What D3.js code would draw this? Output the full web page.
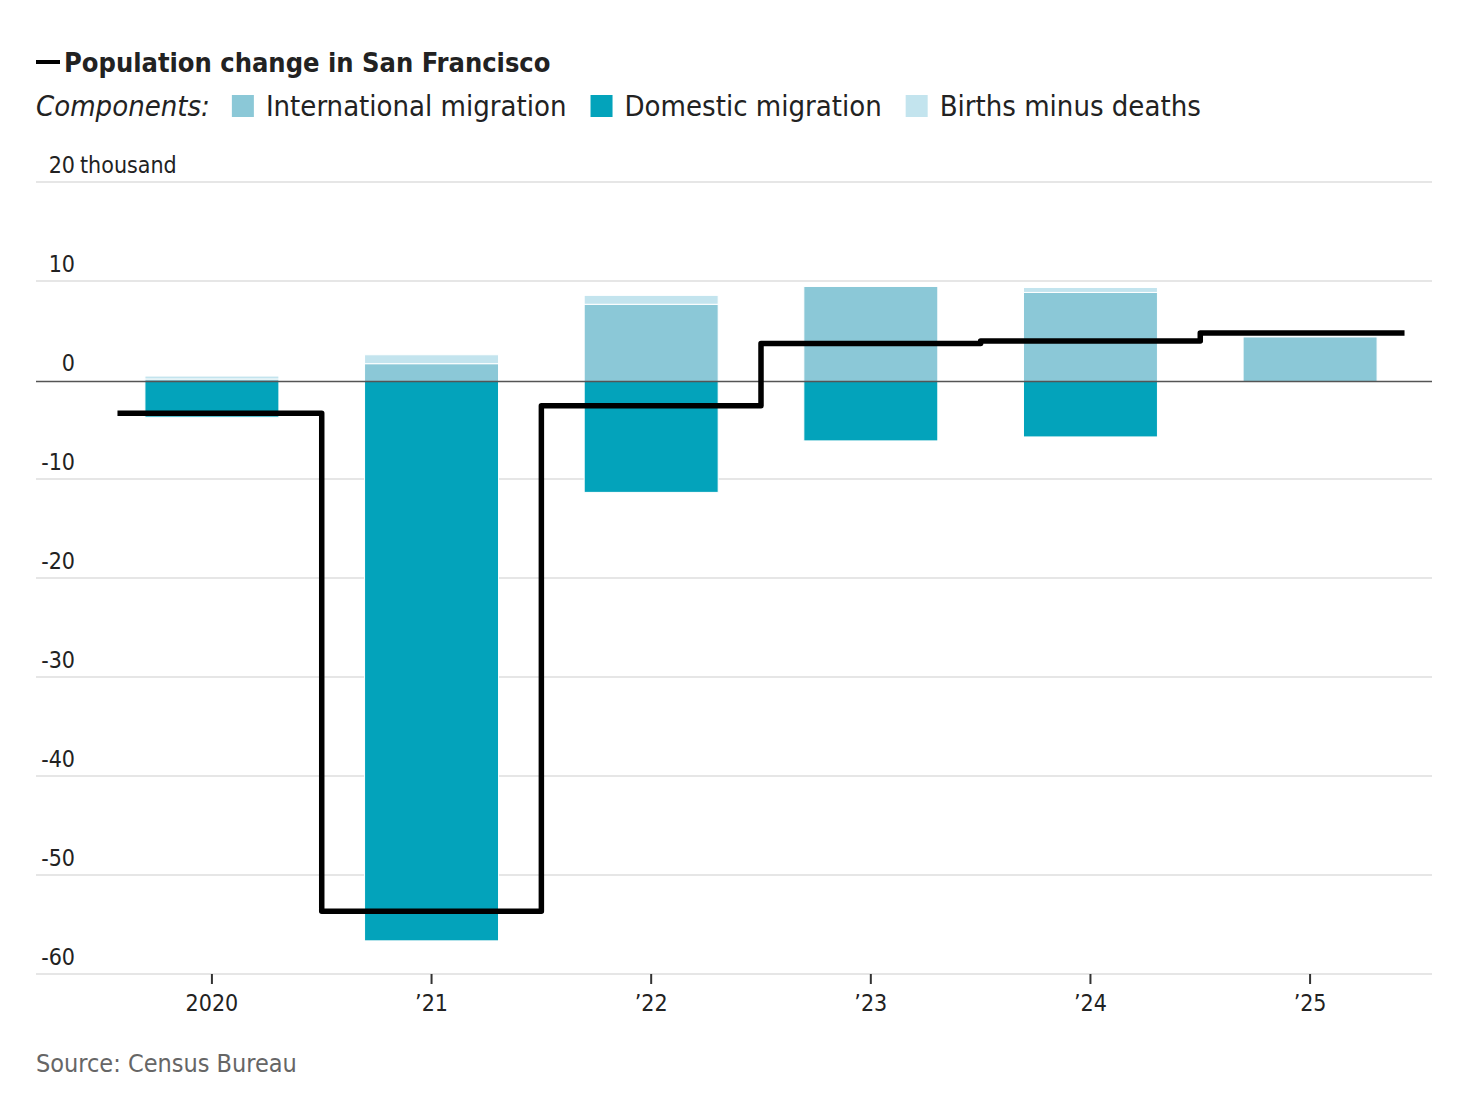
<!DOCTYPE html>
<html lang="en">
<head>
    <meta charset="UTF-8">
    <title>Population change in San Francisco</title>
    <style>
        body {
            margin: 0;
            background: #fff;
        }

        svg text {
            font-family: "Liberation Sans Narrow", "DejaVu Sans Condensed", "Roboto", sans-serif;
            fill: #222;
        }
    </style>
</head>
<body>
<script src="https://cdnjs.cloudflare.com/ajax/libs/d3/7.8.5/d3.min.js"></script>
<script>
    const width = 1472;
    const height = 1112;

    // values in thousands of people
    const years = ['2020', '2021', '2022', '2023', '2024', '2025'];
    const yearLabels = ['2020', '\u201921', '\u201922', '\u201923', '\u201924', '\u201925'];
    const international = [0.25, 1.8, 7.8, 9.6, 9.0, 4.5];
    const domestic = [-3.6, -56.5, -11.2, -6.0, -5.6, 0];
    const birthsMinusDeaths = [0.3, 0.9, 0.9, 0, 0.5, 0];
    const totalChange = [-3.2, -53.5, -2.45, 3.85, 4.1, 4.9];
    const yTicks = [-60, -50, -40, -30, -20, -10, 0, 10, 20];

    const COLORS = {
        international: '#8bc8d7',
        domestic: '#03a3bb',
        births: '#c3e4ee',
        total: '#000',
        grid: '#e6e6e6',
        zero: '#555',
        source: '#666'
    };

    const PLOT = {left: 36, right: 1432, top: 182, bottom: 974};

    const svg = d3.select('body')
        .append('svg')
        .attr('width', width)
        .attr('height', height);

    const x = d3.scaleBand()
        .domain(years)
        .range([101, 1421])
        .paddingInner(0.39)
        .paddingOuter(0.2);

    const y = d3.scaleLinear()
        .domain([-60, 20])
        .range([PLOT.bottom, PLOT.top]);

    // title
    svg.append('line')
        .attr('x1', 36).attr('x2', 60)
        .attr('y1', 62).attr('y2', 62)
        .attr('stroke', '#000')
        .attr('stroke-width', 4);

    svg.append('text')
        .attr('x', 64)
        .attr('y', 72)
        .style('font-size', '27px')
        .style('font-weight', 'bold')
        .text('Population change in San Francisco');

    // legend
    const legend = svg.append('g').attr('transform', 'translate(36, 116)');
    const compLabel = legend.append('text')
        .style('font-size', '29px')
        .style('font-style', 'italic')
        .text('Components:');

    const legendItems = [
        {name: 'International migration', color: COLORS.international},
        {name: 'Domestic migration', color: COLORS.domestic},
        {name: 'Births minus deaths', color: COLORS.births}
    ];
    let lx = compLabel.node().getComputedTextLength() + 22;
    legendItems.forEach(item => {
        legend.append('rect')
            .attr('x', lx).attr('y', -21)
            .attr('width', 22).attr('height', 22)
            .attr('fill', item.color);
        const t = legend.append('text')
            .attr('x', lx + 34)
            .style('font-size', '29px')
            .text(item.name);
        lx += 34 + t.node().getComputedTextLength() + 24;
    });

    // grid + y labels
    const grid = svg.append('g').classed('grid', true);
    grid.selectAll('line')
        .data(yTicks.filter(d => d !== 0))
        .enter()
        .append('line')
        .attr('x1', PLOT.left).attr('x2', PLOT.right)
        .attr('y1', d => y(d)).attr('y2', d => y(d))
        .attr('stroke', COLORS.grid)
        .attr('stroke-width', 2);

    const labels = svg.append('g').classed('y-labels', true);
    labels.selectAll('text')
        .data(yTicks)
        .enter()
        .append('text')
        .attr('x', 75)
        .attr('y', d => y(d) - 9)
        .attr('text-anchor', 'end')
        .style('font-size', '23px')
        .text(d => d);
    labels.append('text')
        .attr('x', 80)
        .attr('y', y(20) - 9)
        .style('font-size', '23px')
        .text('thousand');

    // bars
    const bars = svg.append('g').classed('bars', true);
    years.forEach((yr, i) => {
        const segs = [
            {y0: 0, y1: domestic[i], color: COLORS.domestic},
            {y0: 0, y1: international[i], color: COLORS.international},
            {y0: international[i], y1: international[i] + birthsMinusDeaths[i], color: COLORS.births}
        ].filter(s => s.y1 !== s.y0);
        bars.selectAll('.bar-' + yr)
            .data(segs)
            .enter()
            .append('rect')
            .attr('x', x(yr))
            .attr('width', x.bandwidth())
            .attr('y', d => y(Math.max(d.y0, d.y1)) + 1.5)
            .attr('height', d => Math.abs(y(d.y0) - y(d.y1)))
            .attr('fill', d => d.color)
            .attr('stroke', '#fff')
            .attr('stroke-width', 1);
    });

    // zero line
    svg.append('line')
        .attr('x1', PLOT.left).attr('x2', PLOT.right)
        .attr('y1', y(0) + 1.5).attr('y2', y(0) + 1.5)
        .attr('stroke', COLORS.zero)
        .attr('stroke-width', 1.6);

    // x axis ticks + labels
    const xAxis = svg.append('g').classed('axis-x', true);
    xAxis.selectAll('line')
        .data(years)
        .enter()
        .append('line')
        .attr('x1', d => x(d) + x.bandwidth() / 2)
        .attr('x2', d => x(d) + x.bandwidth() / 2)
        .attr('y1', PLOT.bottom)
        .attr('y2', PLOT.bottom + 10)
        .attr('stroke', '#333')
        .attr('stroke-width', 2);
    xAxis.selectAll('text')
        .data(years)
        .enter()
        .append('text')
        .attr('x', d => x(d) + x.bandwidth() / 2)
        .attr('y', 1011)
        .attr('text-anchor', 'middle')
        .style('font-size', '23px')
        .text((d, i) => yearLabels[i]);

    // total change step line
    const center = d => x(d) + x.bandwidth() / 2;
    const ext = x.step() * 0.43;
    const pts = years.map((yr, i) => [center(yr), totalChange[i]]);
    pts.unshift([center(years[0]) - ext, totalChange[0]]);
    pts.push([center(years[years.length - 1]) + ext, totalChange[totalChange.length - 1]]);

    const stepLine = d3.line()
        .x(d => d[0])
        .y(d => y(d[1]) + 1.5)
        .curve(d3.curveStep);

    svg.append('path')
        .datum(pts)
        .attr('d', stepLine)
        .attr('fill', 'none')
        .attr('stroke', COLORS.total)
        .attr('stroke-width', 5.5)
        .attr('stroke-linejoin', 'round');

    // source
    svg.append('text')
        .attr('x', 36)
        .attr('y', 1072)
        .style('font-size', '25px')
        .style('fill', COLORS.source)
        .text('Source: Census Bureau');
</script>
</body>
</html>
